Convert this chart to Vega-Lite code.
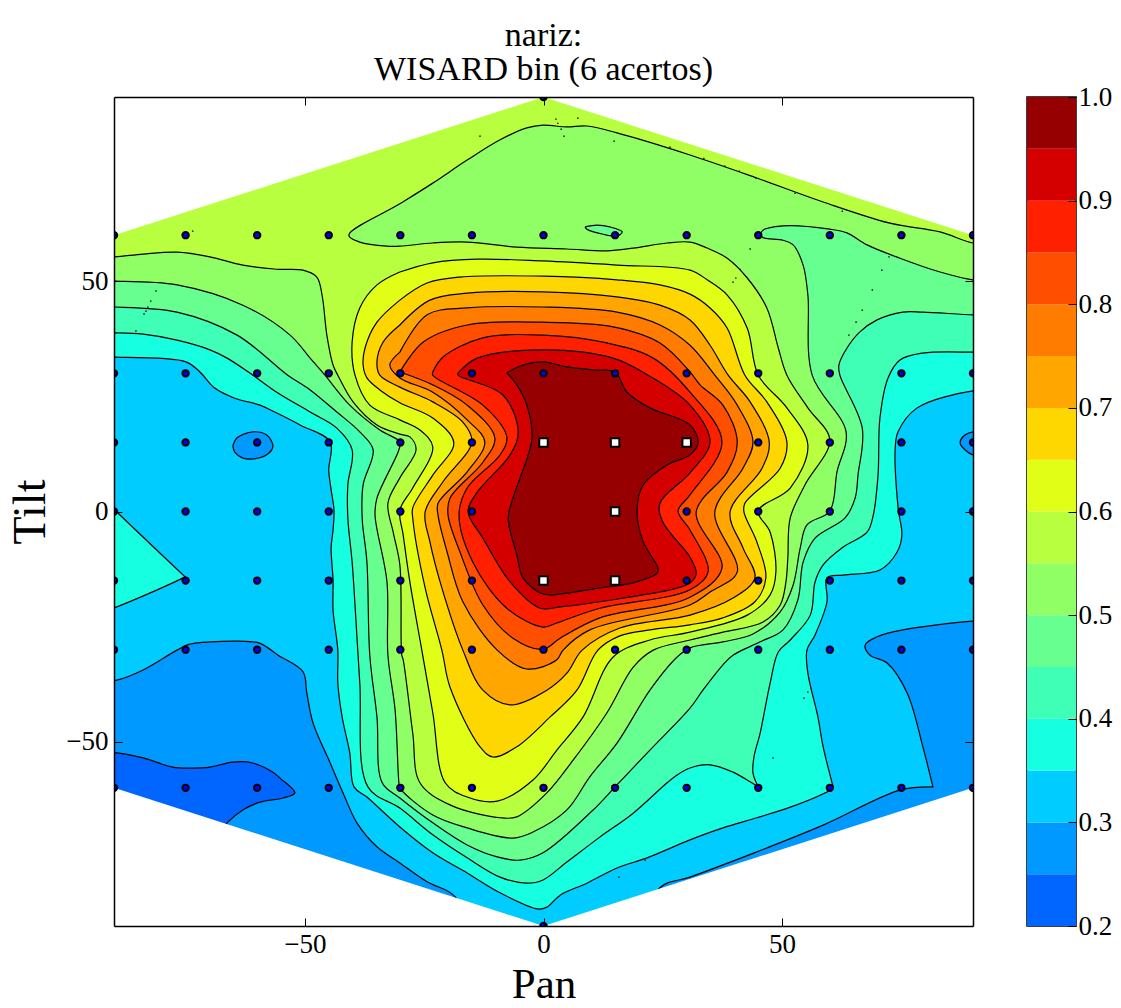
{"$schema":"https://vega.github.io/schema/vega-lite/v6.json","background":"white","padding":{"left":7,"top":18,"right":0,"bottom":0},"spacing":52,
"config":{"axis":{"grid":false,"domainColor":"black","domainWidth":1.5,"tickColor":"black","tickWidth":1,"labelFont":"Liberation Serif","labelFontSize":27,"labelColor":"black","titleFont":"Liberation Serif","titleFontWeight":"normal","titleFontSize":43,"titleColor":"black"},"title":{"font":"Liberation Serif","fontSize":34,"fontWeight":"normal","color":"black"}},
"datasets":{
"contours":[
{"g":"a00","v":0.3,"x":-95,"y":95},{"g":"a00","v":0.3,"x":95,"y":95},{"g":"a00","v":0.3,"x":95,"y":-95},{"g":"a00","v":0.3,"x":-95,"y":-95},
{"g":"a01","v":0.25,"x":-93,"y":-36.8},{"g":"a01","v":0.25,"x":-89.4,"y":-36.6},{"g":"a01","v":0.25,"x":-83.9,"y":-34.4},{"g":"a01","v":0.25,"x":-76.8,"y":-30.1},{"g":"a01","v":0.25,"x":-74.1,"y":-28.8},{"g":"a01","v":0.25,"x":-60.9,"y":-28.3},{"g":"a01","v":0.25,"x":-59,"y":-28.8},{"g":"a01","v":0.25,"x":-55.6,"y":-31.2},{"g":"a01","v":0.25,"x":-50.4,"y":-34.8},{"g":"a01","v":0.25,"x":-49.6,"y":-39.4},{"g":"a01","v":0.25,"x":-48.3,"y":-45.9},{"g":"a01","v":0.25,"x":-44.7,"y":-54.6},{"g":"a01","v":0.25,"x":-42,"y":-61.1},{"g":"a01","v":0.25,"x":-39.1,"y":-67.6},{"g":"a01","v":0.25,"x":-34.9,"y":-72.8},{"g":"a01","v":0.25,"x":-30.1,"y":-76.3},{"g":"a01","v":0.25,"x":-24.4,"y":-80.4},{"g":"a01","v":0.25,"x":-18.5,"y":-83.7},{"g":"a01","v":0.25,"x":-15.4,"y":-95},{"g":"a01","v":0.25,"x":-93,"y":-95},
{"g":"a02","v":0.25,"x":93.6,"y":-23.8},{"g":"a02","v":0.25,"x":90,"y":-23.8},{"g":"a02","v":0.25,"x":75.3,"y":-25.7},{"g":"a02","v":0.25,"x":69.9,"y":-27.2},{"g":"a02","v":0.25,"x":67.4,"y":-29},{"g":"a02","v":0.25,"x":68.4,"y":-31.2},{"g":"a02","v":0.25,"x":72,"y":-32.9},{"g":"a02","v":0.25,"x":76.2,"y":-39.4},{"g":"a02","v":0.25,"x":79.5,"y":-51.1},{"g":"a02","v":0.25,"x":81.6,"y":-59.8},{"g":"a02","v":0.25,"x":81.6,"y":-59.8},{"g":"a02","v":0.25,"x":74.7,"y":-60.5},{"g":"a02","v":0.25,"x":58.6,"y":-68.1},{"g":"a02","v":0.25,"x":44.7,"y":-73.9},{"g":"a02","v":0.25,"x":30.7,"y":-79.4},{"g":"a02","v":0.25,"x":24.4,"y":-81.7},{"g":"a02","v":0.25,"x":20,"y":-95},{"g":"a02","v":0.25,"x":95,"y":-95},{"g":"a02","v":0.25,"x":95,"y":-24},
{"g":"a03","v":0.25,"x":-65.1,"y":14.2},{"g":"a03","v":0.25,"x":-64.2,"y":16},{"g":"a03","v":0.25,"x":-60.9,"y":17.3},{"g":"a03","v":0.25,"x":-58,"y":16.6},{"g":"a03","v":0.25,"x":-56.7,"y":14.2},{"g":"a03","v":0.25,"x":-58,"y":12.3},{"g":"a03","v":0.25,"x":-60.9,"y":11.4},{"g":"a03","v":0.25,"x":-63,"y":11.6},{"g":"a03","v":0.25,"x":-64.7,"y":12.9},{"g":"a03","v":0.25,"x":-65.1,"y":14.2},
{"g":"a04","v":0.25,"x":92.5,"y":17.3},{"g":"a04","v":0.25,"x":90,"y":17.3},{"g":"a04","v":0.25,"x":88.3,"y":16.6},{"g":"a04","v":0.25,"x":87.3,"y":14.9},{"g":"a04","v":0.25,"x":88.3,"y":13.4},{"g":"a04","v":0.25,"x":90,"y":12.3},{"g":"a04","v":0.25,"x":92.5,"y":12.3},
{"g":"a05","v":0.2,"x":-93,"y":-52.4},{"g":"a05","v":0.2,"x":-89.4,"y":-52.4},{"g":"a05","v":0.2,"x":-83.9,"y":-53.5},{"g":"a05","v":0.2,"x":-77.7,"y":-55.5},{"g":"a05","v":0.2,"x":-73.5,"y":-55.7},{"g":"a05","v":0.2,"x":-69.9,"y":-55.5},{"g":"a05","v":0.2,"x":-65.1,"y":-54.4},{"g":"a05","v":0.2,"x":-60.9,"y":-54.6},{"g":"a05","v":0.2,"x":-56.7,"y":-56.6},{"g":"a05","v":0.2,"x":-55.2,"y":-57.9},{"g":"a05","v":0.2,"x":-52.1,"y":-61.1},{"g":"a05","v":0.2,"x":-54.6,"y":-62.2},{"g":"a05","v":0.2,"x":-59.4,"y":-63.1},{"g":"a05","v":0.2,"x":-63,"y":-64.8},{"g":"a05","v":0.2,"x":-66.3,"y":-67.6},{"g":"a05","v":0.2,"x":-68.9,"y":-71.3},{"g":"a05","v":0.2,"x":-93,"y":-71.3},
{"g":"a06","v":0.35,"x":-93,"y":3.6},{"g":"a06","v":0.35,"x":-89.4,"y":-0.1},{"g":"a06","v":0.35,"x":-75.1,"y":-14.2},{"g":"a06","v":0.35,"x":-75.1,"y":-14.2},{"g":"a06","v":0.35,"x":-77.7,"y":-15.5},{"g":"a06","v":0.35,"x":-89.4,"y":-20.7},{"g":"a06","v":0.35,"x":-93,"y":-22},
{"g":"a07","v":0.35,"x":-93,"y":33.5},{"g":"a07","v":0.35,"x":-90,"y":33.5},{"g":"a07","v":0.35,"x":-74.9,"y":32.5},{"g":"a07","v":0.35,"x":-72,"y":30.3},{"g":"a07","v":0.35,"x":-68.9,"y":26.8},{"g":"a07","v":0.35,"x":-64.7,"y":24.6},{"g":"a07","v":0.35,"x":-59.4,"y":23.1},{"g":"a07","v":0.35,"x":-56.3,"y":21.6},{"g":"a07","v":0.35,"x":-51,"y":18.8},{"g":"a07","v":0.35,"x":-44.7,"y":15.1},{"g":"a07","v":0.35,"x":-45,"y":9},{"g":"a07","v":0.35,"x":-44.5,"y":4.7},{"g":"a07","v":0.35,"x":-43.9,"y":0.3},{"g":"a07","v":0.35,"x":-44.1,"y":-4},{"g":"a07","v":0.35,"x":-44.5,"y":-7.9},{"g":"a07","v":0.35,"x":-44.1,"y":-14.9},{"g":"a07","v":0.35,"x":-44.1,"y":-21.4},{"g":"a07","v":0.35,"x":-43.1,"y":-30.1},{"g":"a07","v":0.35,"x":-43.1,"y":-37.2},{"g":"a07","v":0.35,"x":-42.2,"y":-44.6},{"g":"a07","v":0.35,"x":-40.6,"y":-52.4},{"g":"a07","v":0.35,"x":-39.7,"y":-59.8},{"g":"a07","v":0.35,"x":-37,"y":-62},{"g":"a07","v":0.35,"x":-30.1,"y":-68.5},{"g":"a07","v":0.35,"x":-23.2,"y":-74.1},{"g":"a07","v":0.35,"x":-16,"y":-78.5},{"g":"a07","v":0.35,"x":-9.1,"y":-82.8},{"g":"a07","v":0.35,"x":-1.2,"y":-86.3},{"g":"a07","v":0.35,"x":0.7,"y":-85.9},{"g":"a07","v":0.35,"x":3.5,"y":-83.3},{"g":"a07","v":0.35,"x":9.1,"y":-80.7},{"g":"a07","v":0.35,"x":15.4,"y":-77.4},{"g":"a07","v":0.35,"x":21.7,"y":-75.2},{"g":"a07","v":0.35,"x":30.7,"y":-71.3},{"g":"a07","v":0.35,"x":37.6,"y":-68.7},{"g":"a07","v":0.35,"x":44.7,"y":-66.5},{"g":"a07","v":0.35,"x":51.7,"y":-64.2},{"g":"a07","v":0.35,"x":60,"y":-60.5},{"g":"a07","v":0.35,"x":60.7,"y":-59.8},{"g":"a07","v":0.35,"x":60.7,"y":-59.8},{"g":"a07","v":0.35,"x":58.6,"y":-51.1},{"g":"a07","v":0.35,"x":57.5,"y":-44.6},{"g":"a07","v":0.35,"x":55.4,"y":-35.1},{"g":"a07","v":0.35,"x":55.2,"y":-30.1},{"g":"a07","v":0.35,"x":56.9,"y":-26.8},{"g":"a07","v":0.35,"x":59.4,"y":-19.6},{"g":"a07","v":0.35,"x":59.4,"y":-14.4},{"g":"a07","v":0.35,"x":62.8,"y":-13.8},{"g":"a07","v":0.35,"x":70.5,"y":-12.7},{"g":"a07","v":0.35,"x":74.1,"y":-8.8},{"g":"a07","v":0.35,"x":75.1,"y":-5.1},{"g":"a07","v":0.35,"x":74.3,"y":0.8},{"g":"a07","v":0.35,"x":73.7,"y":13.8},{"g":"a07","v":0.35,"x":74.3,"y":17.3},{"g":"a07","v":0.35,"x":78.3,"y":22.5},{"g":"a07","v":0.35,"x":90,"y":26.2},{"g":"a07","v":0.35,"x":93.6,"y":26.2},{"g":"a07","v":0.35,"x":93.6,"y":95},{"g":"a07","v":0.35,"x":-93,"y":95},
{"g":"a08","v":0.4,"x":93.6,"y":34.6},{"g":"a08","v":0.4,"x":90,"y":34.6},{"g":"a08","v":0.4,"x":79.5,"y":34.4},{"g":"a08","v":0.4,"x":74.7,"y":32.9},{"g":"a08","v":0.4,"x":72.2,"y":29},{"g":"a08","v":0.4,"x":70.5,"y":20.3},{"g":"a08","v":0.4,"x":70.1,"y":7.9},{"g":"a08","v":0.4,"x":69.1,"y":-0.8},{"g":"a08","v":0.4,"x":67.8,"y":-4.5},{"g":"a08","v":0.4,"x":62.8,"y":-7.7},{"g":"a08","v":0.4,"x":58.6,"y":-11.6},{"g":"a08","v":0.4,"x":56.9,"y":-15.3},{"g":"a08","v":0.4,"x":55.9,"y":-22.5},{"g":"a08","v":0.4,"x":51.7,"y":-27.9},{"g":"a08","v":0.4,"x":49.2,"y":-30.5},{"g":"a08","v":0.4,"x":47.5,"y":-37.2},{"g":"a08","v":0.4,"x":45.4,"y":-48.1},{"g":"a08","v":0.4,"x":44.1,"y":-53.3},{"g":"a08","v":0.4,"x":43.9,"y":-56.8},{"g":"a08","v":0.4,"x":45,"y":-59.8},{"g":"a08","v":0.4,"x":45,"y":-59.8},{"g":"a08","v":0.4,"x":43.3,"y":-58.7},{"g":"a08","v":0.4,"x":39.7,"y":-56.6},{"g":"a08","v":0.4,"x":34.9,"y":-55},{"g":"a08","v":0.4,"x":30.7,"y":-55.7},{"g":"a08","v":0.4,"x":28,"y":-57.2},{"g":"a08","v":0.4,"x":25.9,"y":-58.9},{"g":"a08","v":0.4,"x":18.8,"y":-65.5},{"g":"a08","v":0.4,"x":11.8,"y":-70.7},{"g":"a08","v":0.4,"x":4.9,"y":-76.1},{"g":"a08","v":0.4,"x":-0.1,"y":-80},{"g":"a08","v":0.4,"x":-3.5,"y":-80.7},{"g":"a08","v":0.4,"x":-9.1,"y":-79.4},{"g":"a08","v":0.4,"x":-16,"y":-75.2},{"g":"a08","v":0.4,"x":-23.2,"y":-70.2},{"g":"a08","v":0.4,"x":-30.1,"y":-64.4},{"g":"a08","v":0.4,"x":-36.8,"y":-59.8},{"g":"a08","v":0.4,"x":-38.5,"y":-37.2},{"g":"a08","v":0.4,"x":-39.5,"y":-20.3},{"g":"a08","v":0.4,"x":-40.1,"y":-11},{"g":"a08","v":0.4,"x":-41,"y":-1.4},{"g":"a08","v":0.4,"x":-41,"y":5.8},{"g":"a08","v":0.4,"x":-40.1,"y":13.4},{"g":"a08","v":0.4,"x":-43.3,"y":18.1},{"g":"a08","v":0.4,"x":-48.9,"y":21.6},{"g":"a08","v":0.4,"x":-55.9,"y":25.9},{"g":"a08","v":0.4,"x":-60.9,"y":29.6},{"g":"a08","v":0.4,"x":-66.3,"y":33.3},{"g":"a08","v":0.4,"x":-69.9,"y":35.1},{"g":"a08","v":0.4,"x":-76.8,"y":37.2},{"g":"a08","v":0.4,"x":-83.9,"y":38.5},{"g":"a08","v":0.4,"x":-89.8,"y":38.8},{"g":"a08","v":0.4,"x":-93,"y":38.8},{"g":"a08","v":0.4,"x":-93,"y":95},{"g":"a08","v":0.4,"x":93.6,"y":95},
{"g":"a09","v":0.45,"x":-93,"y":44.4},{"g":"a09","v":0.45,"x":-89.8,"y":44.4},{"g":"a09","v":0.45,"x":-76.8,"y":43.3},{"g":"a09","v":0.45,"x":-64.2,"y":38.3},{"g":"a09","v":0.45,"x":-53.6,"y":29.6},{"g":"a09","v":0.45,"x":-48.9,"y":26.4},{"g":"a09","v":0.45,"x":-43.3,"y":21.6},{"g":"a09","v":0.45,"x":-38.5,"y":17.3},{"g":"a09","v":0.45,"x":-35.7,"y":13.4},{"g":"a09","v":0.45,"x":-37.8,"y":5.8},{"g":"a09","v":0.45,"x":-38,"y":-1.4},{"g":"a09","v":0.45,"x":-37,"y":-11},{"g":"a09","v":0.45,"x":-36.4,"y":-31.2},{"g":"a09","v":0.45,"x":-34.9,"y":-44.6},{"g":"a09","v":0.45,"x":-33.8,"y":-58.9},{"g":"a09","v":0.45,"x":-30.1,"y":-62.2},{"g":"a09","v":0.45,"x":-23.2,"y":-67.6},{"g":"a09","v":0.45,"x":-16,"y":-72.4},{"g":"a09","v":0.45,"x":-9.7,"y":-75},{"g":"a09","v":0.45,"x":-4.9,"y":-75.7},{"g":"a09","v":0.45,"x":-0.1,"y":-74.1},{"g":"a09","v":0.45,"x":10.4,"y":-64.8},{"g":"a09","v":0.45,"x":15,"y":-59.8},{"g":"a09","v":0.45,"x":22.3,"y":-51.8},{"g":"a09","v":0.45,"x":30.7,"y":-42.7},{"g":"a09","v":0.45,"x":33.4,"y":-38.8},{"g":"a09","v":0.45,"x":37.6,"y":-33.3},{"g":"a09","v":0.45,"x":39.7,"y":-31.2},{"g":"a09","v":0.45,"x":45.4,"y":-28.3},{"g":"a09","v":0.45,"x":50.2,"y":-25.7},{"g":"a09","v":0.45,"x":53.3,"y":-19.2},{"g":"a09","v":0.45,"x":54.4,"y":-11},{"g":"a09","v":0.45,"x":56.9,"y":-5.8},{"g":"a09","v":0.45,"x":63.2,"y":-1.4},{"g":"a09","v":0.45,"x":65.3,"y":2.9},{"g":"a09","v":0.45,"x":65.9,"y":7.9},{"g":"a09","v":0.45,"x":66.8,"y":18.1},{"g":"a09","v":0.45,"x":62.1,"y":29.6},{"g":"a09","v":0.45,"x":61.9,"y":31.8},{"g":"a09","v":0.45,"x":63.6,"y":35.5},{"g":"a09","v":0.45,"x":66.3,"y":39},{"g":"a09","v":0.45,"x":69.9,"y":41.6},{"g":"a09","v":0.45,"x":75.3,"y":43.3},{"g":"a09","v":0.45,"x":79.5,"y":43.3},{"g":"a09","v":0.45,"x":90,"y":42.7},{"g":"a09","v":0.45,"x":93.6,"y":42.7},{"g":"a09","v":0.45,"x":93.6,"y":95},{"g":"a09","v":0.45,"x":-93,"y":95},
{"g":"a10","v":0.5,"x":-93,"y":50},{"g":"a10","v":0.5,"x":-89.8,"y":50},{"g":"a10","v":0.5,"x":-76.8,"y":49.2},{"g":"a10","v":0.5,"x":-63,"y":44.8},{"g":"a10","v":0.5,"x":-53.1,"y":38.3},{"g":"a10","v":0.5,"x":-48.9,"y":33.3},{"g":"a10","v":0.5,"x":-45.8,"y":29.6},{"g":"a10","v":0.5,"x":-40.6,"y":23.1},{"g":"a10","v":0.5,"x":-34.3,"y":17.7},{"g":"a10","v":0.5,"x":-30.1,"y":15.1},{"g":"a10","v":0.5,"x":-30.3,"y":13.4},{"g":"a10","v":0.5,"x":-34.9,"y":2.9},{"g":"a10","v":0.5,"x":-35.3,"y":-0.8},{"g":"a10","v":0.5,"x":-32.8,"y":-15.3},{"g":"a10","v":0.5,"x":-32.6,"y":-31.2},{"g":"a10","v":0.5,"x":-31.1,"y":-43.1},{"g":"a10","v":0.5,"x":-30.3,"y":-58.9},{"g":"a10","v":0.5,"x":-30.1,"y":-60},{"g":"a10","v":0.5,"x":-23.2,"y":-65.9},{"g":"a10","v":0.5,"x":-16,"y":-68.7},{"g":"a10","v":0.5,"x":-6.4,"y":-70.9},{"g":"a10","v":0.5,"x":-2.2,"y":-69.6},{"g":"a10","v":0.5,"x":4.9,"y":-64.8},{"g":"a10","v":0.5,"x":9.7,"y":-57.6},{"g":"a10","v":0.5,"x":15.4,"y":-50.3},{"g":"a10","v":0.5,"x":22.3,"y":-38.8},{"g":"a10","v":0.5,"x":28,"y":-31.6},{"g":"a10","v":0.5,"x":30.7,"y":-29.6},{"g":"a10","v":0.5,"x":37.6,"y":-28.3},{"g":"a10","v":0.5,"x":43.9,"y":-26.6},{"g":"a10","v":0.5,"x":49.6,"y":-21.8},{"g":"a10","v":0.5,"x":52.3,"y":-16},{"g":"a10","v":0.5,"x":53.8,"y":-7.9},{"g":"a10","v":0.5,"x":55.2,"y":-2.9},{"g":"a10","v":0.5,"x":60,"y":0.1},{"g":"a10","v":0.5,"x":61.5,"y":8.6},{"g":"a10","v":0.5,"x":63.4,"y":17.3},{"g":"a10","v":0.5,"x":56.3,"y":29.6},{"g":"a10","v":0.5,"x":55.4,"y":47},{"g":"a10","v":0.5,"x":54.4,"y":53.5},{"g":"a10","v":0.5,"x":52.3,"y":57.9},{"g":"a10","v":0.5,"x":50.2,"y":58.9},{"g":"a10","v":0.5,"x":45.8,"y":59.6},{"g":"a10","v":0.5,"x":45.8,"y":60.9},{"g":"a10","v":0.5,"x":50.2,"y":62},{"g":"a10","v":0.5,"x":60,"y":61.3},{"g":"a10","v":0.5,"x":63.6,"y":60.5},{"g":"a10","v":0.5,"x":67.8,"y":57.9},{"g":"a10","v":0.5,"x":74.7,"y":55},{"g":"a10","v":0.5,"x":83.1,"y":52},{"g":"a10","v":0.5,"x":90,"y":50.3},{"g":"a10","v":0.5,"x":93.6,"y":50.3},{"g":"a10","v":0.5,"x":93.6,"y":95},{"g":"a10","v":0.5,"x":-93,"y":95},
{"g":"a11","v":0.55,"x":-93,"y":55.3},{"g":"a11","v":0.55,"x":-89.8,"y":55.3},{"g":"a11","v":0.55,"x":-83.9,"y":55.9},{"g":"a11","v":0.55,"x":-76.8,"y":56.3},{"g":"a11","v":0.55,"x":-69.9,"y":55.3},{"g":"a11","v":0.55,"x":-63,"y":53.5},{"g":"a11","v":0.55,"x":-55.9,"y":52.6},{"g":"a11","v":0.55,"x":-50.4,"y":52.4},{"g":"a11","v":0.55,"x":-47.5,"y":50.9},{"g":"a11","v":0.55,"x":-46.4,"y":47},{"g":"a11","v":0.55,"x":-45.4,"y":38.3},{"g":"a11","v":0.55,"x":-44.1,"y":31.8},{"g":"a11","v":0.55,"x":-43.1,"y":29.6},{"g":"a11","v":0.55,"x":-39.9,"y":23.8},{"g":"a11","v":0.55,"x":-34.9,"y":18.8},{"g":"a11","v":0.55,"x":-30.1,"y":16.8},{"g":"a11","v":0.55,"x":-28,"y":16.2},{"g":"a11","v":0.55,"x":-26.7,"y":13.4},{"g":"a11","v":0.55,"x":-30.1,"y":7.3},{"g":"a11","v":0.55,"x":-32.6,"y":1.8},{"g":"a11","v":0.55,"x":-31.5,"y":-4.5},{"g":"a11","v":0.55,"x":-30.1,"y":-11.6},{"g":"a11","v":0.55,"x":-29.7,"y":-31.2},{"g":"a11","v":0.55,"x":-29.4,"y":-32.2},{"g":"a11","v":0.55,"x":-27.4,"y":-48.1},{"g":"a11","v":0.55,"x":-25.9,"y":-58.9},{"g":"a11","v":0.55,"x":-19.6,"y":-63.7},{"g":"a11","v":0.55,"x":-9.1,"y":-66.5},{"g":"a11","v":0.55,"x":-5.6,"y":-66.3},{"g":"a11","v":0.55,"x":0.7,"y":-61.1},{"g":"a11","v":0.55,"x":6.2,"y":-54},{"g":"a11","v":0.55,"x":13.3,"y":-43.7},{"g":"a11","v":0.55,"x":18.8,"y":-33.8},{"g":"a11","v":0.55,"x":23,"y":-30.1},{"g":"a11","v":0.55,"x":30.7,"y":-27.9},{"g":"a11","v":0.55,"x":37.6,"y":-26.2},{"g":"a11","v":0.55,"x":46,"y":-24},{"g":"a11","v":0.55,"x":49.6,"y":-20.3},{"g":"a11","v":0.55,"x":50.8,"y":-15.3},{"g":"a11","v":0.55,"x":51.2,"y":-10.1},{"g":"a11","v":0.55,"x":51.7,"y":-1.4},{"g":"a11","v":0.55,"x":54.8,"y":5.8},{"g":"a11","v":0.55,"x":60,"y":15.5},{"g":"a11","v":0.55,"x":55.4,"y":22.5},{"g":"a11","v":0.55,"x":51,"y":29.6},{"g":"a11","v":0.55,"x":49.2,"y":35.5},{"g":"a11","v":0.55,"x":46.8,"y":44.2},{"g":"a11","v":0.55,"x":42.7,"y":50.7},{"g":"a11","v":0.55,"x":38.5,"y":55},{"g":"a11","v":0.55,"x":34.3,"y":57.2},{"g":"a11","v":0.55,"x":30.7,"y":58.5},{"g":"a11","v":0.55,"x":25.9,"y":58.3},{"g":"a11","v":0.55,"x":18.8,"y":57.2},{"g":"a11","v":0.55,"x":13.3,"y":56.6},{"g":"a11","v":0.55,"x":4.9,"y":57},{"g":"a11","v":0.55,"x":-5.6,"y":57.4},{"g":"a11","v":0.55,"x":-16,"y":58.5},{"g":"a11","v":0.55,"x":-23.2,"y":58.3},{"g":"a11","v":0.55,"x":-30.1,"y":57.6},{"g":"a11","v":0.55,"x":-32.8,"y":57.6},{"g":"a11","v":0.55,"x":-38.5,"y":58.5},{"g":"a11","v":0.55,"x":-40.8,"y":60},{"g":"a11","v":0.55,"x":-30.1,"y":66.8},{"g":"a11","v":0.55,"x":-23.2,"y":71.3},{"g":"a11","v":0.55,"x":-16,"y":76.3},{"g":"a11","v":0.55,"x":-9.1,"y":80.7},{"g":"a11","v":0.55,"x":-3.5,"y":83.3},{"g":"a11","v":0.55,"x":-0.1,"y":83.9},{"g":"a11","v":0.55,"x":4.9,"y":83.5},{"g":"a11","v":0.55,"x":9.1,"y":83.7},{"g":"a11","v":0.55,"x":15.4,"y":82.2},{"g":"a11","v":0.55,"x":30.7,"y":77.4},{"g":"a11","v":0.55,"x":44.7,"y":72.4},{"g":"a11","v":0.55,"x":58.6,"y":67.2},{"g":"a11","v":0.55,"x":72.6,"y":62.6},{"g":"a11","v":0.55,"x":83.1,"y":60.7},{"g":"a11","v":0.55,"x":90,"y":58.3},{"g":"a11","v":0.55,"x":93.6,"y":58.3},{"g":"a11","v":0.55,"x":93.6,"y":95},{"g":"a11","v":0.55,"x":-93,"y":95},
{"g":"a12","v":0.45,"x":8.7,"y":61.8},{"g":"a12","v":0.45,"x":11.2,"y":62.2},{"g":"a12","v":0.45,"x":13.9,"y":61.8},{"g":"a12","v":0.45,"x":16.5,"y":60.7},{"g":"a12","v":0.45,"x":15.4,"y":59.8},{"g":"a12","v":0.45,"x":12.5,"y":60.2},{"g":"a12","v":0.45,"x":9.1,"y":61.3},{"g":"a12","v":0.45,"x":8.7,"y":61.8},
{"g":"a13","v":0.6,"x":-30.1,"y":52},{"g":"a13","v":0.6,"x":-34.9,"y":49.2},{"g":"a13","v":0.6,"x":-38.5,"y":44.2},{"g":"a13","v":0.6,"x":-40.1,"y":36.8},{"g":"a13","v":0.6,"x":-39.5,"y":29.6},{"g":"a13","v":0.6,"x":-36.4,"y":23.1},{"g":"a13","v":0.6,"x":-30.1,"y":19.9},{"g":"a13","v":0.6,"x":-25.9,"y":17.7},{"g":"a13","v":0.6,"x":-23.2,"y":14},{"g":"a13","v":0.6,"x":-27.4,"y":5.1},{"g":"a13","v":0.6,"x":-30.1,"y":0.3},{"g":"a13","v":0.6,"x":-29.4,"y":-5.1},{"g":"a13","v":0.6,"x":-28,"y":-15.3},{"g":"a13","v":0.6,"x":-25.5,"y":-30.1},{"g":"a13","v":0.6,"x":-23.2,"y":-43.7},{"g":"a13","v":0.6,"x":-20.6,"y":-58.9},{"g":"a13","v":0.6,"x":-16,"y":-62},{"g":"a13","v":0.6,"x":-9.7,"y":-62.9},{"g":"a13","v":0.6,"x":-2.2,"y":-58.3},{"g":"a13","v":0.6,"x":2.8,"y":-51.8},{"g":"a13","v":0.6,"x":8.3,"y":-44.6},{"g":"a13","v":0.6,"x":14.6,"y":-31.6},{"g":"a13","v":0.6,"x":22.3,"y":-27.9},{"g":"a13","v":0.6,"x":30.7,"y":-26.2},{"g":"a13","v":0.6,"x":42.7,"y":-22.5},{"g":"a13","v":0.6,"x":47.5,"y":-18.1},{"g":"a13","v":0.6,"x":48.7,"y":-13.1},{"g":"a13","v":0.6,"x":47.5,"y":-4.5},{"g":"a13","v":0.6,"x":45,"y":0.1},{"g":"a13","v":0.6,"x":51.7,"y":5.1},{"g":"a13","v":0.6,"x":55.4,"y":14.4},{"g":"a13","v":0.6,"x":51,"y":22.5},{"g":"a13","v":0.6,"x":45,"y":29.6},{"g":"a13","v":0.6,"x":42.7,"y":39.8},{"g":"a13","v":0.6,"x":38.5,"y":47},{"g":"a13","v":0.6,"x":34.3,"y":50.3},{"g":"a13","v":0.6,"x":30.7,"y":52.4},{"g":"a13","v":0.6,"x":15.4,"y":53.5},{"g":"a13","v":0.6,"x":-0.1,"y":54.4},{"g":"a13","v":0.6,"x":-13.9,"y":54.8},{"g":"a13","v":0.6,"x":-23.2,"y":54},{"g":"a13","v":0.6,"x":-30.1,"y":52},
{"g":"a14","v":0.65,"x":-30.1,"y":45.9},{"g":"a14","v":0.65,"x":-34.9,"y":41.1},{"g":"a14","v":0.65,"x":-37.4,"y":35.5},{"g":"a14","v":0.65,"x":-37.8,"y":31.8},{"g":"a14","v":0.65,"x":-37,"y":29},{"g":"a14","v":0.65,"x":-34.3,"y":26.4},{"g":"a14","v":0.65,"x":-30.1,"y":23.6},{"g":"a14","v":0.65,"x":-23.2,"y":20.3},{"g":"a14","v":0.65,"x":-18.8,"y":14.9},{"g":"a14","v":0.65,"x":-23.2,"y":7.9},{"g":"a14","v":0.65,"x":-27.4,"y":0.8},{"g":"a14","v":0.65,"x":-27.4,"y":-1.4},{"g":"a14","v":0.65,"x":-24.8,"y":-16.6},{"g":"a14","v":0.65,"x":-21.3,"y":-30.1},{"g":"a14","v":0.65,"x":-19.6,"y":-38.1},{"g":"a14","v":0.65,"x":-13.3,"y":-51.1},{"g":"a14","v":0.65,"x":-10.6,"y":-53.3},{"g":"a14","v":0.65,"x":-5.6,"y":-51.1},{"g":"a14","v":0.65,"x":1.4,"y":-44.6},{"g":"a14","v":0.65,"x":7,"y":-38.8},{"g":"a14","v":0.65,"x":11.4,"y":-30.1},{"g":"a14","v":0.65,"x":16,"y":-27},{"g":"a14","v":0.65,"x":22.3,"y":-25.7},{"g":"a14","v":0.65,"x":30.7,"y":-24.6},{"g":"a14","v":0.65,"x":37.6,"y":-23.1},{"g":"a14","v":0.65,"x":44.3,"y":-19.6},{"g":"a14","v":0.65,"x":46.6,"y":-14.4},{"g":"a14","v":0.65,"x":44.7,"y":-6.6},{"g":"a14","v":0.65,"x":42,"y":-0.1},{"g":"a14","v":0.65,"x":42.2,"y":1.8},{"g":"a14","v":0.65,"x":49.6,"y":9.4},{"g":"a14","v":0.65,"x":51,"y":15.1},{"g":"a14","v":0.65,"x":46.8,"y":23.8},{"g":"a14","v":0.65,"x":42.2,"y":29.6},{"g":"a14","v":0.65,"x":38.5,"y":39.8},{"g":"a14","v":0.65,"x":34.9,"y":44.2},{"g":"a14","v":0.65,"x":30.7,"y":47.2},{"g":"a14","v":0.65,"x":24.4,"y":49.2},{"g":"a14","v":0.65,"x":15.4,"y":50.3},{"g":"a14","v":0.65,"x":-0.1,"y":51.1},{"g":"a14","v":0.65,"x":-17.5,"y":50.9},{"g":"a14","v":0.65,"x":-24.4,"y":49.6},{"g":"a14","v":0.65,"x":-30.1,"y":45.9},
{"g":"a15","v":0.7,"x":-30.1,"y":40.5},{"g":"a15","v":0.7,"x":-33.6,"y":36.8},{"g":"a15","v":0.7,"x":-34.9,"y":32.5},{"g":"a15","v":0.7,"x":-34.3,"y":29.6},{"g":"a15","v":0.7,"x":-30.1,"y":27},{"g":"a15","v":0.7,"x":-23.2,"y":23.8},{"g":"a15","v":0.7,"x":-16.9,"y":19.4},{"g":"a15","v":0.7,"x":-15,"y":15.1},{"g":"a15","v":0.7,"x":-21.1,"y":6.4},{"g":"a15","v":0.7,"x":-24.8,"y":-0.1},{"g":"a15","v":0.7,"x":-23.8,"y":-6.6},{"g":"a15","v":0.7,"x":-21.3,"y":-16.6},{"g":"a15","v":0.7,"x":-16.9,"y":-30.1},{"g":"a15","v":0.7,"x":-12.7,"y":-38.8},{"g":"a15","v":0.7,"x":-7,"y":-42},{"g":"a15","v":0.7,"x":0.7,"y":-38.8},{"g":"a15","v":0.7,"x":4.9,"y":-35.1},{"g":"a15","v":0.7,"x":8.1,"y":-30.1},{"g":"a15","v":0.7,"x":16,"y":-25.3},{"g":"a15","v":0.7,"x":30.7,"y":-22.5},{"g":"a15","v":0.7,"x":39.7,"y":-18.8},{"g":"a15","v":0.7,"x":44.3,"y":-14.4},{"g":"a15","v":0.7,"x":41.8,"y":-7.9},{"g":"a15","v":0.7,"x":39.1,"y":-0.1},{"g":"a15","v":0.7,"x":45.8,"y":9.4},{"g":"a15","v":0.7,"x":47.3,"y":15.1},{"g":"a15","v":0.7,"x":43.3,"y":23.8},{"g":"a15","v":0.7,"x":38.7,"y":29.6},{"g":"a15","v":0.7,"x":34.9,"y":36.1},{"g":"a15","v":0.7,"x":30.7,"y":41.6},{"g":"a15","v":0.7,"x":24.4,"y":44.8},{"g":"a15","v":0.7,"x":15.4,"y":46.6},{"g":"a15","v":0.7,"x":-0.1,"y":47.7},{"g":"a15","v":0.7,"x":-16,"y":47.4},{"g":"a15","v":0.7,"x":-23.8,"y":45.9},{"g":"a15","v":0.7,"x":-30.1,"y":40.5},
{"g":"a16","v":0.75,"x":-30.1,"y":34.6},{"g":"a16","v":0.75,"x":-32.2,"y":31.8},{"g":"a16","v":0.75,"x":-30.1,"y":29},{"g":"a16","v":0.75,"x":-23.2,"y":25.9},{"g":"a16","v":0.75,"x":-16,"y":19.9},{"g":"a16","v":0.75,"x":-12.3,"y":15.1},{"g":"a16","v":0.75,"x":-16,"y":8.6},{"g":"a16","v":0.75,"x":-22.1,"y":1.8},{"g":"a16","v":0.75,"x":-22.1,"y":-0.8},{"g":"a16","v":0.75,"x":-20.2,"y":-8.8},{"g":"a16","v":0.75,"x":-16.9,"y":-19.6},{"g":"a16","v":0.75,"x":-9.7,"y":-30.1},{"g":"a16","v":0.75,"x":-3.5,"y":-34.2},{"g":"a16","v":0.75,"x":2.8,"y":-32.2},{"g":"a16","v":0.75,"x":4.1,"y":-30.1},{"g":"a16","v":0.75,"x":9.7,"y":-25.7},{"g":"a16","v":0.75,"x":30.7,"y":-20.3},{"g":"a16","v":0.75,"x":34.9,"y":-17.5},{"g":"a16","v":0.75,"x":40.6,"y":-13.1},{"g":"a16","v":0.75,"x":35.9,"y":-0.1},{"g":"a16","v":0.75,"x":41.8,"y":9.4},{"g":"a16","v":0.75,"x":43.9,"y":15.1},{"g":"a16","v":0.75,"x":40.6,"y":23.1},{"g":"a16","v":0.75,"x":35.9,"y":29.6},{"g":"a16","v":0.75,"x":30.7,"y":36.1},{"g":"a16","v":0.75,"x":24.4,"y":40.5},{"g":"a16","v":0.75,"x":15.4,"y":43.3},{"g":"a16","v":0.75,"x":-0.1,"y":44.4},{"g":"a16","v":0.75,"x":-16,"y":44.2},{"g":"a16","v":0.75,"x":-24.4,"y":42.7},{"g":"a16","v":0.75,"x":-30.1,"y":34.6},
{"g":"a17","v":0.8,"x":-30.1,"y":30.3},{"g":"a17","v":0.8,"x":-25.2,"y":36.8},{"g":"a17","v":0.8,"x":-16,"y":40.5},{"g":"a17","v":0.8,"x":-0.1,"y":41.1},{"g":"a17","v":0.8,"x":14.6,"y":40.1},{"g":"a17","v":0.8,"x":24.4,"y":36.6},{"g":"a17","v":0.8,"x":30.7,"y":30.3},{"g":"a17","v":0.8,"x":32.8,"y":27.5},{"g":"a17","v":0.8,"x":37.6,"y":23.1},{"g":"a17","v":0.8,"x":40.6,"y":15.1},{"g":"a17","v":0.8,"x":38.5,"y":8.6},{"g":"a17","v":0.8,"x":32,"y":-0.1},{"g":"a17","v":0.8,"x":37.4,"y":-12.3},{"g":"a17","v":0.8,"x":30.7,"y":-18.6},{"g":"a17","v":0.8,"x":11.8,"y":-23.1},{"g":"a17","v":0.8,"x":3.5,"y":-27.5},{"g":"a17","v":0.8,"x":-0.1,"y":-29.9},{"g":"a17","v":0.8,"x":-6.4,"y":-27.5},{"g":"a17","v":0.8,"x":-12.7,"y":-20.3},{"g":"a17","v":0.8,"x":-17.5,"y":-8.8},{"g":"a17","v":0.8,"x":-20,"y":-0.8},{"g":"a17","v":0.8,"x":-19.6,"y":2.9},{"g":"a17","v":0.8,"x":-12.7,"y":10.7},{"g":"a17","v":0.8,"x":-10.2,"y":16},{"g":"a17","v":0.8,"x":-16,"y":23.1},{"g":"a17","v":0.8,"x":-23.2,"y":27.5},{"g":"a17","v":0.8,"x":-30.1,"y":30.3},
{"g":"a18","v":0.85,"x":-23.2,"y":30.3},{"g":"a18","v":0.85,"x":-21.1,"y":33.5},{"g":"a18","v":0.85,"x":-12.7,"y":37.7},{"g":"a18","v":0.85,"x":-0.1,"y":38.3},{"g":"a18","v":0.85,"x":13.3,"y":36.6},{"g":"a18","v":0.85,"x":23,"y":33.3},{"g":"a18","v":0.85,"x":30.7,"y":25.9},{"g":"a18","v":0.85,"x":37.4,"y":15.1},{"g":"a18","v":0.85,"x":30.7,"y":3.6},{"g":"a18","v":0.85,"x":28.2,"y":0.1},{"g":"a18","v":0.85,"x":30.7,"y":-4},{"g":"a18","v":0.85,"x":34.5,"y":-13.1},{"g":"a18","v":0.85,"x":30.7,"y":-17},{"g":"a18","v":0.85,"x":11.8,"y":-21},{"g":"a18","v":0.85,"x":2.8,"y":-24.2},{"g":"a18","v":0.85,"x":-0.1,"y":-25.1},{"g":"a18","v":0.85,"x":-7.7,"y":-21},{"g":"a18","v":0.85,"x":-14.8,"y":-11},{"g":"a18","v":0.85,"x":-17.7,"y":-0.8},{"g":"a18","v":0.85,"x":-16,"y":5.1},{"g":"a18","v":0.85,"x":-9.1,"y":12.3},{"g":"a18","v":0.85,"x":-7.7,"y":16.2},{"g":"a18","v":0.85,"x":-12.7,"y":23.1},{"g":"a18","v":0.85,"x":-23.2,"y":29.6},{"g":"a18","v":0.85,"x":-23.2,"y":30.3},
{"g":"a19","v":0.9,"x":-17.9,"y":30.1},{"g":"a19","v":0.9,"x":-13.9,"y":33.3},{"g":"a19","v":0.9,"x":-0.1,"y":35.1},{"g":"a19","v":0.9,"x":14.6,"y":33.3},{"g":"a19","v":0.9,"x":21.9,"y":29.6},{"g":"a19","v":0.9,"x":30.7,"y":23.1},{"g":"a19","v":0.9,"x":34.9,"y":15.1},{"g":"a19","v":0.9,"x":30.7,"y":8.4},{"g":"a19","v":0.9,"x":24.4,"y":1.8},{"g":"a19","v":0.9,"x":25,"y":-2.3},{"g":"a19","v":0.9,"x":30.7,"y":-9.9},{"g":"a19","v":0.9,"x":32,"y":-13.4},{"g":"a19","v":0.9,"x":30.7,"y":-15.5},{"g":"a19","v":0.9,"x":11.8,"y":-19.6},{"g":"a19","v":0.9,"x":3.5,"y":-20.7},{"g":"a19","v":0.9,"x":-0.7,"y":-21},{"g":"a19","v":0.9,"x":-7,"y":-15.3},{"g":"a19","v":0.9,"x":-12.7,"y":-5.8},{"g":"a19","v":0.9,"x":-15.8,"y":-0.1},{"g":"a19","v":0.9,"x":-13.9,"y":4.2},{"g":"a19","v":0.9,"x":-7,"y":12.3},{"g":"a19","v":0.9,"x":-5.3,"y":17.3},{"g":"a19","v":0.9,"x":-8.5,"y":25.3},{"g":"a19","v":0.9,"x":-17.9,"y":29.6},{"g":"a19","v":0.9,"x":-17.9,"y":30.1},
{"g":"a20","v":0.95,"x":-7.7,"y":30.1},{"g":"a20","v":0.95,"x":-4.3,"y":31.8},{"g":"a20","v":0.95,"x":-0.1,"y":32.5},{"g":"a20","v":0.95,"x":4.9,"y":31.4},{"g":"a20","v":0.95,"x":11.2,"y":30.7},{"g":"a20","v":0.95,"x":15,"y":30.3},{"g":"a20","v":0.95,"x":17.5,"y":25.9},{"g":"a20","v":0.95,"x":22.3,"y":22.5},{"g":"a20","v":0.95,"x":30.7,"y":18.8},{"g":"a20","v":0.95,"x":32.4,"y":14.9},{"g":"a20","v":0.95,"x":30.7,"y":12.3},{"g":"a20","v":0.95,"x":25.9,"y":10.1},{"g":"a20","v":0.95,"x":20.9,"y":5.8},{"g":"a20","v":0.95,"x":19.6,"y":-0.1},{"g":"a20","v":0.95,"x":20.9,"y":-6.6},{"g":"a20","v":0.95,"x":24,"y":-12.3},{"g":"a20","v":0.95,"x":23.8,"y":-13.4},{"g":"a20","v":0.95,"x":18.8,"y":-15.5},{"g":"a20","v":0.95,"x":11.8,"y":-16.6},{"g":"a20","v":0.95,"x":1.4,"y":-18.1},{"g":"a20","v":0.95,"x":-0.7,"y":-17.7},{"g":"a20","v":0.95,"x":-4.3,"y":-14.4},{"g":"a20","v":0.95,"x":-5.6,"y":-9.4},{"g":"a20","v":0.95,"x":-7.4,"y":-1.4},{"g":"a20","v":0.95,"x":-6.4,"y":2.9},{"g":"a20","v":0.95,"x":-3.2,"y":12.3},{"g":"a20","v":0.95,"x":-2.4,"y":16},{"g":"a20","v":0.95,"x":-3.5,"y":23.1},{"g":"a20","v":0.95,"x":-5.6,"y":27.5},{"g":"a20","v":0.95,"x":-7.7,"y":30.1}
],
"masks":[
{"g":"m1","x":-95,"y":60},{"g":"m1","x":-90,"y":60},{"g":"m1","x":0,"y":90},{"g":"m1","x":0,"y":95},{"g":"m1","x":-95,"y":95},
{"g":"m2","x":95,"y":60},{"g":"m2","x":90,"y":60},{"g":"m2","x":0,"y":90},{"g":"m2","x":0,"y":95},{"g":"m2","x":95,"y":95},
{"g":"m3","x":-95,"y":-60},{"g":"m3","x":-90,"y":-60},{"g":"m3","x":0,"y":-90},{"g":"m3","x":0,"y":-95},{"g":"m3","x":-95,"y":-95},
{"g":"m4","x":95,"y":-60},{"g":"m4","x":90,"y":-60},{"g":"m4","x":0,"y":-90},{"g":"m4","x":0,"y":-95},{"g":"m4","x":95,"y":-95}
],
"specks":[{"x":2.6,"y":85.2},{"x":3,"y":84.3},{"x":3.7,"y":83},{"x":4.3,"y":81.5},{"x":7.2,"y":85.4},{"x":-13.3,"y":81.5},{"x":14.8,"y":80.4},{"x":26.5,"y":79.1},{"x":33.6,"y":76.7},{"x":38,"y":75},{"x":41,"y":73.9},{"x":44.5,"y":72.4},{"x":52.7,"y":69.1},{"x":62.6,"y":65.2},{"x":43.3,"y":57},{"x":41.2,"y":52.6},{"x":40.3,"y":50.7},{"x":39.7,"y":49.8},{"x":72.4,"y":55.3},{"x":70.9,"y":52.4},{"x":68.9,"y":48.1},{"x":66.8,"y":43.7},{"x":65.5,"y":41.1},{"x":64,"y":38.3},{"x":-73.5,"y":60.9},{"x":-81.2,"y":47.9},{"x":-82.3,"y":45.7},{"x":-82.9,"y":44.4},{"x":-83.3,"y":43.5},{"x":-83.7,"y":42.9},{"x":-85.4,"y":39.2},{"x":55.4,"y":-39.2},{"x":54.6,"y":-40.5},{"x":48.1,"y":-53.5},{"x":21.3,"y":-75.7},{"x":15.8,"y":-79.4}],
"misses":[{"x":0,"y":90},{"x":0,"y":-90},
{"x":-90,"y":60},{"x":-75,"y":60},{"x":-60,"y":60},{"x":-45,"y":60},{"x":-30,"y":60},{"x":-15,"y":60},{"x":0,"y":60},{"x":15,"y":60},{"x":30,"y":60},{"x":45,"y":60},{"x":60,"y":60},{"x":75,"y":60},{"x":90,"y":60},
{"x":-90,"y":30},{"x":-75,"y":30},{"x":-60,"y":30},{"x":-45,"y":30},{"x":-30,"y":30},{"x":-15,"y":30},{"x":0,"y":30},{"x":15,"y":30},{"x":30,"y":30},{"x":45,"y":30},{"x":60,"y":30},{"x":75,"y":30},{"x":90,"y":30},
{"x":-90,"y":15},{"x":-75,"y":15},{"x":-60,"y":15},{"x":-45,"y":15},{"x":-30,"y":15},{"x":-15,"y":15},{"x":45,"y":15},{"x":60,"y":15},{"x":75,"y":15},{"x":90,"y":15},
{"x":-90,"y":0},{"x":-75,"y":0},{"x":-60,"y":0},{"x":-45,"y":0},{"x":-30,"y":0},{"x":-15,"y":0},{"x":30,"y":0},{"x":45,"y":0},{"x":60,"y":0},{"x":75,"y":0},{"x":90,"y":0},
{"x":-90,"y":-15},{"x":-75,"y":-15},{"x":-60,"y":-15},{"x":-45,"y":-15},{"x":-30,"y":-15},{"x":-15,"y":-15},{"x":30,"y":-15},{"x":45,"y":-15},{"x":60,"y":-15},{"x":75,"y":-15},{"x":90,"y":-15},
{"x":-90,"y":-30},{"x":-75,"y":-30},{"x":-60,"y":-30},{"x":-45,"y":-30},{"x":-30,"y":-30},{"x":-15,"y":-30},{"x":0,"y":-30},{"x":15,"y":-30},{"x":30,"y":-30},{"x":45,"y":-30},{"x":60,"y":-30},{"x":75,"y":-30},{"x":90,"y":-30},
{"x":-90,"y":-60},{"x":-75,"y":-60},{"x":-60,"y":-60},{"x":-45,"y":-60},{"x":-30,"y":-60},{"x":-15,"y":-60},{"x":0,"y":-60},{"x":15,"y":-60},{"x":30,"y":-60},{"x":45,"y":-60},{"x":60,"y":-60},{"x":75,"y":-60},{"x":90,"y":-60}],
"hits":[{"x":0,"y":15},{"x":15,"y":15},{"x":30,"y":15},{"x":15,"y":0},{"x":0,"y":-15},{"x":15,"y":-15}],
"bands":[{"v":0.2,"hi":0.25},{"v":0.25,"hi":0.3},{"v":0.3,"hi":0.35},{"v":0.35,"hi":0.4},{"v":0.4,"hi":0.45},{"v":0.45,"hi":0.5},{"v":0.5,"hi":0.55},{"v":0.55,"hi":0.6},{"v":0.6,"hi":0.65},{"v":0.65,"hi":0.7},{"v":0.7,"hi":0.75},{"v":0.75,"hi":0.8},{"v":0.8,"hi":0.85},{"v":0.85,"hi":0.9},{"v":0.9,"hi":0.95},{"v":0.95,"hi":1}]
},
"hconcat":[
{"width":859,"height":829,"title":{"text":["nariz:","WISARD bin (6 acertos)"],"anchor":"middle","offset":10,"lineHeight":34},
"encoding":{"x":{"field":"x","type":"quantitative","scale":{"domain":[-90,90],"nice":false,"zero":false}},"y":{"field":"y","type":"quantitative","scale":{"domain":[-90,90],"nice":false,"zero":false}}},
"resolve":{"axis":{"x":"independent","y":"independent"}},
"layer":[
{"data":{"name":"contours"},"mark":{"type":"line","clip":true,"stroke":"black","strokeWidth":1.2,"interpolate":"catmull-rom"},
"encoding":{"order":{"value":null},"detail":{"field":"g","type":"nominal"},
"fill":{"field":"v","type":"ordinal","legend":null,"scale":{"domain":[0.2,0.25,0.3,0.35,0.4,0.45,0.5,0.55,0.6,0.65,0.7,0.75,0.8,0.85,0.9,0.95],"range":["#0066ff","#0099ff","#00ccff","#16ffe1","#3fffb7","#66ff90","#90ff66","#b7ff3f","#e1ff16","#ffd700","#ffa600","#ff7c00","#ff4e00","#ff2000","#d40000","#960000"]}},
"x":{"field":"x","type":"quantitative","axis":{"orient":"bottom","title":"Pan","values":[-50,0,50],"tickSize":-8,"labelPadding":13,"titlePadding":6,"zindex":1,"labelFlush":false}},
"y":{"field":"y","type":"quantitative","axis":{"orient":"left","title":"Tilt","titleFontSize":46,"values":[-50,0,50],"tickSize":-8,"labelPadding":14,"titlePadding":11,"zindex":1}}}},
{"data":{"name":"masks"},"mark":{"type":"line","clip":true,"fill":"white","stroke":null,"strokeWidth":0},
"encoding":{"order":{"value":null},"detail":{"field":"g","type":"nominal"},
"x":{"field":"x","type":"quantitative","axis":{"orient":"top","title":null,"labels":false,"values":[-50,0,50],"tickSize":-8,"zindex":1}},
"y":{"field":"y","type":"quantitative","axis":{"orient":"right","title":null,"labels":false,"values":[-50,0,50],"tickSize":-8,"zindex":1}}}},
{"data":{"name":"specks"},"mark":{"type":"circle","size":3,"color":"black","opacity":0.8,"clip":true},"encoding":{"x":{"field":"x","type":"quantitative","axis":null},"y":{"field":"y","type":"quantitative","axis":null}}},
{"data":{"name":"misses"},"mark":{"type":"point","shape":"circle","filled":true,"size":41,"fill":"#0000ff","stroke":"black","strokeWidth":2,"opacity":1,"clip":true},"encoding":{"x":{"field":"x","type":"quantitative","axis":null},"y":{"field":"y","type":"quantitative","axis":null}}},
{"data":{"name":"hits"},"mark":{"type":"point","shape":"square","filled":true,"size":72,"fill":"white","stroke":"black","strokeWidth":2,"opacity":1,"clip":true},"encoding":{"x":{"field":"x","type":"quantitative","axis":null},"y":{"field":"y","type":"quantitative","axis":null}}}
]},
{"width":49,"height":829,"view":{"stroke":"black","strokeWidth":1.5},"data":{"name":"bands"},"mark":{"type":"rect"},
"encoding":{"y":{"field":"v","type":"quantitative","scale":{"domain":[0.2,1],"nice":false,"zero":false},"axis":{"orient":"right","title":null,"values":[0.2,0.3,0.4,0.5,0.6,0.7,0.8,0.9,1],"format":".1f","tickSize":-8,"labelPadding":10,"domain":false,"zindex":1}},"y2":{"field":"hi"},
"fill":{"field":"v","type":"ordinal","legend":null,"scale":{"domain":[0.2,0.25,0.3,0.35,0.4,0.45,0.5,0.55,0.6,0.65,0.7,0.75,0.8,0.85,0.9,0.95],"range":["#0066ff","#0099ff","#00ccff","#16ffe1","#3fffb7","#66ff90","#90ff66","#b7ff3f","#e1ff16","#ffd700","#ffa600","#ff7c00","#ff4e00","#ff2000","#d40000","#960000"]}}}}
]}
